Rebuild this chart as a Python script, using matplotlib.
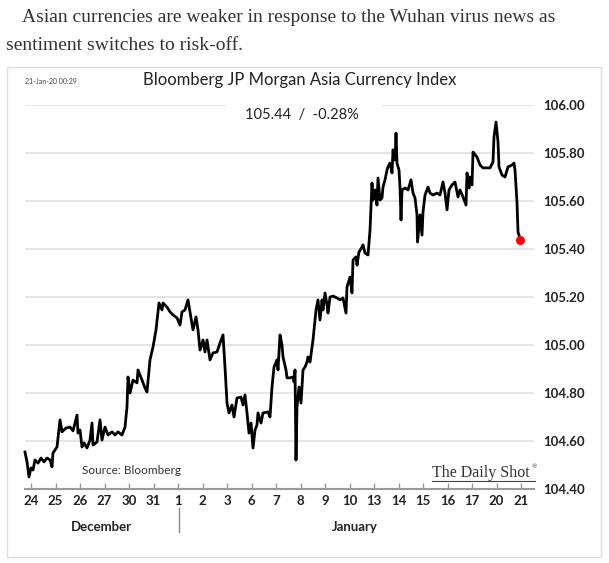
import matplotlib
matplotlib.use("Agg")
import matplotlib.pyplot as plt
from matplotlib.patches import Rectangle
from matplotlib.lines import Line2D

# ---------------- data ----------------
# time in trading days since 24 Dec (tick "24" = 0, tick "21" = 20)
day_offset = [
    -0.245, -0.163, -0.082, 0.000, 0.082, 0.163, 0.286, 0.408, 0.531, 0.653,
    0.776, 0.857, 0.898, 1.061, 1.184, 1.265, 1.429, 1.592, 1.714, 1.878,
    1.918, 2.000, 2.082, 2.163, 2.286, 2.408, 2.490, 2.531, 2.694, 2.816,
    2.898, 3.020, 3.143, 3.306, 3.429, 3.551, 3.714, 3.837, 3.918, 3.959,
    4.041, 4.163, 4.327, 4.367, 4.531, 4.653, 4.735, 4.857, 4.980, 5.102,
    5.224, 5.347, 5.388, 5.551, 5.673, 5.796, 5.959, 6.082, 6.163, 6.286,
    6.408, 6.490, 6.612, 6.735, 6.816, 6.898, 7.020, 7.102, 7.184, 7.306,
    7.429, 7.592, 7.714, 7.837, 7.918, 8.000, 8.082, 8.204, 8.286, 8.408,
    8.571, 8.653, 8.735, 8.816, 8.898, 8.980, 9.061, 9.143, 9.224, 9.265,
    9.388, 9.469, 9.673, 9.755, 9.837, 9.918, 10.041, 10.082, 10.163, 10.245,
    10.286, 10.408, 10.449, 10.571, 10.694, 10.735, 10.776, 10.816, 10.857, 10.939,
    11.020, 11.102, 11.184, 11.265, 11.306, 11.388, 11.510, 11.633, 11.714, 11.796,
    11.878, 11.918, 12.000, 12.082, 12.122, 12.204, 12.327, 12.490, 12.612, 12.735,
    12.857, 12.898, 13.020, 13.102, 13.143, 13.265, 13.306, 13.388, 13.510, 13.551,
    13.633, 13.755, 13.837, 13.918, 13.959, 14.041, 14.122, 14.163, 14.245, 14.327,
    14.367, 14.449, 14.531, 14.571, 14.653, 14.735, 14.776, 14.857, 14.898, 14.939,
    15.020, 15.061, 15.102, 15.143, 15.265, 15.388, 15.510, 15.592, 15.673, 15.755,
    15.776, 15.878, 15.959, 16.000, 16.082, 16.204, 16.286, 16.408, 16.571, 16.694,
    16.816, 16.898, 16.980, 17.061, 17.184, 17.306, 17.388, 17.429, 17.510, 17.633,
    17.755, 17.796, 17.878, 17.918, 18.000, 18.041, 18.204, 18.327, 18.449, 18.612,
    18.735, 18.857, 18.898, 18.980, 19.061, 19.102, 19.224, 19.347, 19.469, 19.633,
    19.714, 19.755, 19.837, 19.878, 19.918, 19.959,
]
index_level = [
    104.554, 104.513, 104.450, 104.488, 104.479, 104.521, 104.508, 104.529, 104.513, 104.529,
    104.521, 104.492, 104.550, 104.575, 104.688, 104.638, 104.654, 104.658, 104.642, 104.708,
    104.633, 104.646, 104.575, 104.592, 104.571, 104.604, 104.675, 104.583, 104.596, 104.688,
    104.604, 104.658, 104.625, 104.638, 104.625, 104.638, 104.625, 104.658, 104.742, 104.867,
    104.800, 104.854, 104.842, 104.896, 104.854, 104.821, 104.804, 104.938, 104.992, 105.063,
    105.175, 105.146, 105.175, 105.158, 105.138, 105.125, 105.113, 105.083, 105.138, 105.146,
    105.188, 105.138, 105.063, 105.117, 105.063, 104.979, 105.021, 104.971, 105.021, 104.938,
    104.967, 104.971, 105.008, 105.042, 104.908, 104.758, 104.717, 104.750, 104.700, 104.779,
    104.783, 104.750, 104.792, 104.717, 104.633, 104.675, 104.571, 104.646, 104.667, 104.717,
    104.675, 104.717, 104.721, 104.700, 104.825, 104.908, 104.938, 104.896, 105.042, 105.000,
    104.950, 104.896, 104.863, 104.863, 104.867, 104.846, 104.896, 104.521, 104.742, 104.825,
    104.758, 104.896, 104.908, 104.929, 104.950, 104.929, 105.021, 105.146, 105.188, 105.104,
    105.188, 105.146, 105.217, 105.167, 105.133, 105.200, 105.204, 105.196, 105.188, 105.196,
    105.133, 105.242, 105.283, 105.217, 105.354, 105.367, 105.333, 105.388, 105.408, 105.417,
    105.383, 105.375, 105.479, 105.675, 105.604, 105.646, 105.583, 105.696, 105.604, 105.613,
    105.658, 105.688, 105.729, 105.742, 105.758, 105.717, 105.813, 105.771, 105.883, 105.758,
    105.729, 105.658, 105.521, 105.646, 105.654, 105.646, 105.688, 105.633, 105.613, 105.542,
    105.429, 105.542, 105.458, 105.554, 105.625, 105.658, 105.633, 105.625, 105.633, 105.625,
    105.679, 105.633, 105.563, 105.646, 105.667, 105.679, 105.638, 105.617, 105.646, 105.617,
    105.583, 105.717, 105.654, 105.700, 105.667, 105.804, 105.783, 105.750, 105.738, 105.738,
    105.738, 105.763, 105.867, 105.929, 105.846, 105.742, 105.708, 105.700, 105.742, 105.750,
    105.758, 105.729, 105.592, 105.471, 105.458, 105.438,
]
day_labels = ["24", "25", "26", "27", "30", "31", "1", "2", "3", "6", "7",
              "8", "9", "10", "13", "14", "15", "16", "17", "20", "21"]
y_ticks = [104.40, 104.60, 104.80, 105.00, 105.20, 105.40, 105.60, 105.80, 106.00]
month_labels = ["December", "January"]
headline = ["Asian currencies are weaker in response to the Wuhan virus news as",
            "sentiment switches to risk-off."]
chart_title = "Bloomberg JP Morgan Asia Currency Index"
last_value_text = "105.44  /  -0.28%"
timestamp = "21-Jan-20 00:29"
source_text = "Source: Bloomberg"

# ---------------- figure ----------------
W, H = 609, 563
fig = plt.figure(figsize=(W / 100, H / 100), dpi=100)
fig.patch.set_facecolor("white")

def fx(px):
    return px / W

def fy(py):
    return 1 - py / H

sans = ["Lato", "DejaVu Sans"]
serif = ["Liberation Serif", "DejaVu Serif"]

# headline text
fig.text(fx(22), fy(18), headline[0], family=serif, fontsize=14, color="#333333",
         ha="left", va="center")
fig.text(fx(6), fy(45), headline[1], family=serif, fontsize=14, color="#333333",
         ha="left", va="center")

# chart frame
fig.patches.append(Rectangle((fx(7), fy(557)), fx(601) - fx(7), fy(67) - fy(557),
                             transform=fig.transFigure, fill=False,
                             edgecolor="#dddddd", linewidth=1.0))

# axes
ax_left, ax_right, ax_top, ax_bot = 25, 534, 105, 489
ax = fig.add_axes([fx(ax_left), fy(ax_bot), fx(ax_right) - fx(ax_left),
                   fy(ax_top) - fy(ax_bot)])
ax.set_facecolor("none")
ax.set_xlim(-0.245, 20.53)
ax.set_ylim(104.40, 106.00)

for s in ["top", "left", "right"]:
    ax.spines[s].set_visible(False)
ax.spines["bottom"].set_color("#9a9a9a")
ax.spines["bottom"].set_linewidth(1.5)

ax.set_yticks(y_ticks)
ax.set_yticklabels([f"{v:.2f}" for v in y_ticks])
ax.yaxis.set_ticks_position("right")
ax.tick_params(axis="y", length=0, pad=6.5, labelsize=9.5, labelcolor="#222222")
for lab in ax.get_yticklabels():
    lab.set_family(sans)
    lab.set_fontweight("bold")

ax.set_xticks(range(len(day_labels)))
ax.set_xticklabels(day_labels)
ax.tick_params(axis="x", direction="in", length=4, width=1, color="#9a9a9a",
               pad=4, labelsize=9.5, labelcolor="#222222")
for lab in ax.get_xticklabels():
    lab.set_family(sans)
    lab.set_fontweight("bold")

# gridlines
for v in y_ticks[1:]:
    ax.axhline(v, color="#e3e3e3", linewidth=1.3, zorder=1)

# white box behind last value text (interrupts top gridline)
fig.patches.append(Rectangle((fx(226), fy(126)), fx(381) - fx(226), fy(99) - fy(126),
                             transform=fig.transFigure, facecolor="white",
                             edgecolor="none", zorder=2))

# series
ax.plot(day_offset, index_level, color="black", linewidth=2.0, zorder=3,
        solid_joinstyle="round", clip_on=False)
ax.plot(day_offset[-1:], index_level[-1:], "o", color="#ff0000", markersize=5.5,
        zorder=4, clip_on=False)

# texts inside chart
fig.text(fx(25), fy(81), timestamp, family=sans, fontsize=5, color="#444444",
         ha="left", va="center")
fig.text(fx(300), fy(80), chart_title, family=sans, fontsize=12, color="#222222",
         ha="center", va="center")
fig.text(fx(302), fy(115), last_value_text, family=sans, fontsize=10.5, color="#222222",
         ha="center", va="center", zorder=5)
fig.text(fx(82), fy(471), source_text, family=sans, fontsize=8.5, color="#333333",
         ha="left", va="center")
fig.text(fx(432), fy(473), "The Daily Shot", family=serif, fontsize=11.5,
         color="#333333", ha="left", va="center")
fig.text(fx(532), fy(467), "®", family=serif, fontsize=5, color="#333333",
         ha="left", va="center")
fig.lines.append(Line2D([fx(432), fx(535)], [fy(481), fy(481)], transform=fig.transFigure,
                        color="#444444", linewidth=0.8))

# month labels and separator
fig.text(fx(101), fy(527), month_labels[0], family=sans, fontsize=9.5, fontweight="bold",
         color="#222222", ha="center", va="center")
fig.text(fx(355), fy(527), month_labels[1], family=sans, fontsize=9.5, fontweight="bold",
         color="#222222", ha="center", va="center")
fig.lines.append(Line2D([fx(179), fx(179)], [fy(508), fy(532)], transform=fig.transFigure,
                        color="#888888", linewidth=1.0))

fig.savefig("out.png", dpi=100, facecolor="white")
